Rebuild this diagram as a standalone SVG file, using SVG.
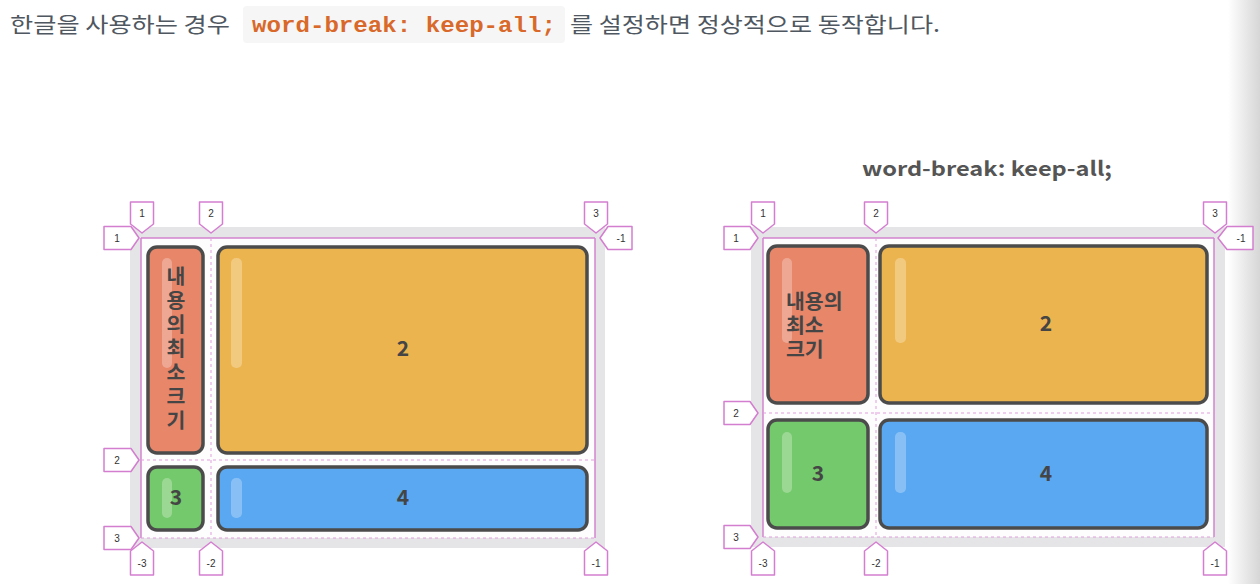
<svg xmlns="http://www.w3.org/2000/svg" width="1260" height="584" viewBox="0 0 1260 584">
<defs>
<linearGradient id="edge" x1="0" y1="0" x2="1" y2="0">
<stop offset="0" stop-color="#ffffff"/>
<stop offset="1" stop-color="#d6d6d6"/>
</linearGradient>
</defs>
<style>
.txt{font-family:"Noto Sans CJK KR","Noto Sans",sans-serif;fill:#4f5760;font-size:21px}
.code{font-family:"Liberation Mono",monospace;font-weight:bold;fill:#d9692a;font-size:22px}
.title{font-family:"Noto Sans CJK KR","Noto Sans",sans-serif;font-weight:600;fill:#555;font-size:20px}
.bg{fill:#e5e5e7}
.inner{fill:#fdfdfd}
.item{stroke:#4b4b4b;stroke-width:3.5}
.c1{fill:#e8866a}.c2{fill:#ecb44e}.c3{fill:#73c96b}.c4{fill:#5aa8f2}
.hl{fill:#ffffff;fill-opacity:0.28}
.lbl{font-family:"Noto Sans CJK KR","Noto Sans",sans-serif;font-weight:bold;fill:#454545;font-size:21px;text-anchor:middle}
.kor{font-family:"Liberation Sans","Noto Sans CJK KR",sans-serif;font-weight:bold;fill:#454545;font-size:20.5px}
.mid{text-anchor:middle}
.solid{stroke:#d384cf;stroke-width:1.5;fill:none}
.dash{stroke:#df9fdb;stroke-width:1;stroke-dasharray:3 3;fill:none}
.mk{fill:#ffffff;stroke:#d47ed0;stroke-width:1.5;stroke-linejoin:round}
.mt{font-family:"Liberation Sans",Arial,sans-serif;font-size:10px;fill:#333;text-anchor:middle}
</style>
<rect x="1228" y="0" width="32" height="584" fill="url(#edge)"/>
<g id="intro">
<text class="txt" x="10" y="32" textLength="220" lengthAdjust="spacingAndGlyphs">한글을 사용하는 경우</text>
<rect x="243" y="6" width="322" height="37" rx="4" fill="#f6f6f6"/>
<text class="code" x="252" y="32" textLength="304" lengthAdjust="spacingAndGlyphs">word-break: keep-all;</text>
<text class="txt" x="570" y="32" textLength="370" lengthAdjust="spacingAndGlyphs">를 설정하면 정상적으로 동작합니다.</text>
</g>
<g id="title-right">
<text class="title" x="862" y="176" textLength="250" lengthAdjust="spacingAndGlyphs">word-break: keep-all;</text>
</g>
<g id="left-grid">
<rect class="bg" x="130" y="227" width="475" height="321"/>
<rect class="inner" x="141" y="238" width="454" height="300"/>
</g>
<g id="left-item1">
<rect class="item c1" x="148" y="247" width="55" height="206" rx="9"/>
<rect class="hl" x="162" y="258" width="10" height="110" rx="5"/>
<text class="kor mid" x="176" y="284"><tspan x="176" y="284">내</tspan><tspan x="176" y="308">용</tspan><tspan x="176" y="332">의</tspan><tspan x="176" y="356">최</tspan><tspan x="176" y="380">소</tspan><tspan x="176" y="404">크</tspan><tspan x="176" y="428">기</tspan></text>
</g>
<g id="left-item2">
<rect class="item c2" x="218" y="247" width="369" height="206" rx="9"/>
<rect class="hl" x="231" y="258" width="11" height="110" rx="5"/>
<text class="lbl" x="403" y="356">2</text>
</g>
<g id="left-item3">
<rect class="item c3" x="148" y="467" width="55" height="63" rx="9"/>
<rect class="hl" x="162" y="478" width="10" height="40" rx="5"/>
<text class="lbl" x="176" y="505">3</text>
</g>
<g id="left-item4">
<rect class="item c4" x="218" y="467" width="369" height="63" rx="9"/>
<rect class="hl" x="231" y="478" width="11" height="40" rx="5"/>
<text class="lbl" x="403" y="505">4</text>
</g>
<g id="right-grid">
<rect class="bg" x="751" y="227" width="474" height="320"/>
<rect class="inner" x="763" y="238" width="451" height="299"/>
</g>
<g id="right-item1">
<rect class="item c1" x="768" y="246" width="100" height="157" rx="9"/>
<rect class="hl" x="782" y="258" width="10" height="85" rx="5"/>
<text class="kor" x="786" y="309"><tspan x="786" y="309">내용의</tspan><tspan x="786" y="333">최소</tspan><tspan x="786" y="357">크기</tspan></text>
</g>
<g id="right-item2">
<rect class="item c2" x="880" y="246" width="327" height="157" rx="9"/>
<rect class="hl" x="895" y="258" width="11" height="85" rx="5"/>
<text class="lbl" x="1046" y="331">2</text>
</g>
<g id="right-item3">
<rect class="item c3" x="768" y="420" width="100" height="108" rx="9"/>
<rect class="hl" x="782" y="432" width="10" height="61" rx="5"/>
<text class="lbl" x="818" y="481">3</text>
</g>
<g id="right-item4">
<rect class="item c4" x="880" y="420" width="327" height="108" rx="9"/>
<rect class="hl" x="895" y="432" width="11" height="61" rx="5"/>
<text class="lbl" x="1046" y="481">4</text>
</g>
<g id="connectors">
<path class="solid" d="M141,238 H595 M141,238 V538 M595,238 V538"/>
<path class="dash" d="M141,538 H595 M211,238 V538 M141,460 H595"/>
<path class="solid" d="M763,238 H1214 M763,238 V537 M1214,238 V537"/>
<path class="dash" d="M763,537 H1214 M876,238 V537 M763,413 H1214"/>
</g>
<g id="left-markers">
<path class="mk" d="M130.5,202 H153.5 V224 L142,233 L130.5,224 Z"/><text class="mt" x="142" y="217">1</text>
<path class="mk" d="M199.5,202 H222.5 V224 L211,233 L199.5,224 Z"/><text class="mt" x="211" y="217">2</text>
<path class="mk" d="M584.5,202 H607.5 V224 L596,233 L584.5,224 Z"/><text class="mt" x="596" y="217">3</text>
<path class="mk" d="M104,226.5 H131 L139,238 L131,249.5 H104 Z"/><text class="mt" x="117" y="241.5">1</text>
<path class="mk" d="M104,448.5 H131 L139,460 L131,471.5 H104 Z"/><text class="mt" x="117" y="463.5">2</text>
<path class="mk" d="M104,526.5 H131 L139,538 L131,549.5 H104 Z"/><text class="mt" x="117" y="541.5">3</text>
<path class="mk" d="M632,226.5 H608 L600,238 L608,249.5 H632 Z"/><text class="mt" x="621" y="241.5">-1</text>
<path class="mk" d="M142,542 L153.5,551 V575 H130.5 V551 Z"/><text class="mt" x="142" y="567">-3</text>
<path class="mk" d="M211,542 L222.5,551 V575 H199.5 V551 Z"/><text class="mt" x="211" y="567">-2</text>
<path class="mk" d="M596,542 L607.5,551 V575 H584.5 V551 Z"/><text class="mt" x="596" y="567">-1</text>
</g>
<g id="right-markers">
<path class="mk" d="M751.5,202 H774.5 V224 L763,233 L751.5,224 Z"/><text class="mt" x="763" y="217">1</text>
<path class="mk" d="M864.5,202 H887.5 V224 L876,233 L864.5,224 Z"/><text class="mt" x="876" y="217">2</text>
<path class="mk" d="M1203.5,202 H1226.5 V224 L1215,233 L1203.5,224 Z"/><text class="mt" x="1215" y="217">3</text>
<path class="mk" d="M724,226.5 H750 L758,238 L750,249.5 H724 Z"/><text class="mt" x="736" y="241.5">1</text>
<path class="mk" d="M724,401.5 H750 L758,413 L750,424.5 H724 Z"/><text class="mt" x="736" y="416.5">2</text>
<path class="mk" d="M724,525.5 H750 L758,537 L750,548.5 H724 Z"/><text class="mt" x="736" y="540.5">3</text>
<path class="mk" d="M1253,226.5 H1227 L1218,238 L1227,249.5 H1253 Z"/><text class="mt" x="1241" y="241.5">-1</text>
<path class="mk" d="M763,542 L774.5,551 V575 H751.5 V551 Z"/><text class="mt" x="763" y="567">-3</text>
<path class="mk" d="M876,542 L887.5,551 V575 H864.5 V551 Z"/><text class="mt" x="876" y="567">-2</text>
<path class="mk" d="M1215,542 L1226.5,551 V575 H1203.5 V551 Z"/><text class="mt" x="1215" y="567">-1</text>
</g>
</svg>
